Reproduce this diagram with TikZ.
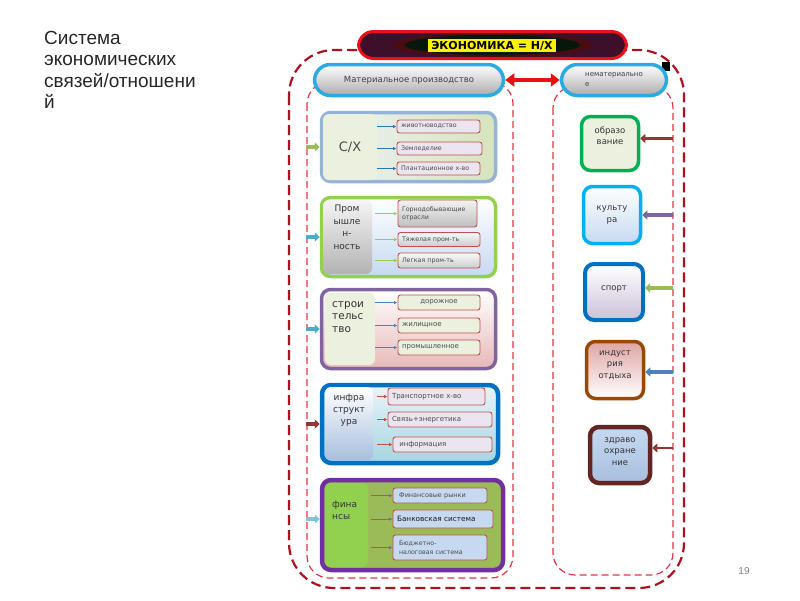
\documentclass[tikz,border=0pt]{standalone}
\usepackage{fontspec}
\setmainfont{DejaVu Sans}
\newfontfamily\titlefont{Liberation Sans}
\usetikzlibrary{arrows.meta}

\definecolor{framered}{HTML}{B0101E}
\definecolor{innerred}{HTML}{E03545}
\definecolor{bannerred}{HTML}{E8101A}
\definecolor{bannerdark}{HTML}{3D0F2B}
\definecolor{bannerring}{HTML}{4A0C10}
\definecolor{bannercore}{HTML}{06170C}
\definecolor{skyline}{HTML}{29ABE2}
\definecolor{arrowred}{HTML}{E81010}
\definecolor{itemred}{HTML}{C0504D}
\definecolor{sxblue}{HTML}{95B3D7}
\definecolor{sxleft}{HTML}{EEF3F8}
\definecolor{sxright}{HTML}{D7E4BD}
\definecolor{limegreen}{HTML}{92D050}
\definecolor{promblue}{HTML}{C6D9F1}
\definecolor{stroipurple}{HTML}{8064A2}
\definecolor{stroipink}{HTML}{E6B9B8}
\definecolor{infrablue}{HTML}{0070C0}
\definecolor{infratop}{HTML}{E9F4F8}
\definecolor{infrabottom}{HTML}{A5D5E2}
\definecolor{infralab}{HTML}{A7BFDE}
\definecolor{finpurple}{HTML}{7030A0}
\definecolor{olive}{HTML}{9BBB59}
\definecolor{palegreen}{HTML}{EBF1DE}
\definecolor{lavender}{HTML}{ECE4EF}
\definecolor{arrowblue}{HTML}{2E75B6}
\definecolor{steelblue}{HTML}{4F81BD}
\definecolor{teal}{HTML}{4BACC6}
\definecolor{darkred}{HTML}{943634}
\definecolor{obrgreen}{HTML}{00B050}
\definecolor{cyanline}{HTML}{00B0F0}
\definecolor{sportlilac}{HTML}{CCC0DA}
\definecolor{brownline}{HTML}{984807}
\definecolor{restpink}{HTML}{DEA5A4}
\definecolor{maroon}{HTML}{632523}

\begin{document}
\begin{tikzpicture}[x=1pt,y=-1pt,
    catbox/.style={draw,line width=3.5pt,rounded corners=9pt,inner sep=0pt},
    labbox/.style={rounded corners=6pt,inner sep=0pt},
    labtext/.style={inner sep=0pt,align=left,text=black!80,font=\fontsize{9}{12}\selectfont},
    itembox/.style={draw=itemred,line width=0.9pt,rounded corners=2.5pt,inner xsep=4pt,inner ysep=0pt,align=left,text=black!70,font=\fontsize{6.3}{7.5}\selectfont},
    sidebox/.style={draw,line width=3.5pt,rounded corners=9pt,inner sep=0pt,align=center,text=black!80,font=\fontsize{8.5}{11.5}\selectfont},
    feed/.style={line width=3.5pt,-{Triangle[length=5pt,width=9pt]}},
    subarrow/.style={line width=0.8pt,-{Latex[length=3.5pt,width=3.5pt]}}]
    \useasboundingbox (0,0) rectangle (800,600);

    \node[anchor=north west,inner sep=0pt,align=left,text=black!85,
        font=\titlefont\fontsize{19}{21.5}\selectfont] (title) at (44,31)
        {Система\\экономических\\связей/отношени\\й};
    \node[font=\titlefont\fontsize{10}{12}\selectfont,text=gray] (page) at (744,571) {19};

    \draw[framered,line width=2.2pt,dash pattern=on 10pt off 5pt,rounded corners=45pt]
        (289,50) rectangle (684,588);
    \draw[innerred,line width=1.2pt,dash pattern=on 7pt off 4pt,rounded corners=22pt]
        (307,82) rectangle (513,578);
    \draw[innerred,line width=1.2pt,dash pattern=on 7pt off 4pt,rounded corners=22pt]
        (553,86) rectangle (673,575);
    \coordinate (lframe) at (306,0);
    \coordinate (rframe) at (673,0);

    \node[draw=bannerred,line width=3pt,fill=bannerdark,rounded corners=15pt,
        minimum width=268pt,minimum height=27pt,inner sep=0pt] (banner) at (492.5,45) {};
    \fill[bannerring] (banner.center) ellipse (100pt and 12pt);
    \fill[bannercore] (banner.center) ellipse (88pt and 10pt);
    \node[fill=yellow,inner xsep=3pt,inner ysep=1.5pt,text=black,
        font=\bfseries\fontsize{11}{12}\selectfont] (econ) at (492,45.5) {ЭКОНОМИКА = Н/Х};

    \fill (662,62) rectangle (670,71);
    \node[draw=skyline,line width=3.5pt,top color=white,bottom color=gray!65,rounded corners=16pt,
        minimum width=189pt,minimum height=31pt,inner sep=0pt,text=black!75,
        font=\fontsize{8.5}{10}\selectfont] (mat) at (409,80) {Материальное производство};
    \node[draw=skyline,line width=3.5pt,top color=white,bottom color=gray!65,rounded corners=16pt,
        minimum width=105pt,minimum height=31pt,inner sep=0pt,align=left,text=black!75,
        font=\fontsize{7}{10}\selectfont] (nemat) at (614,80) {нематериально\\е};
    \draw[arrowred,line width=4pt,{Triangle[length=9pt,width=13pt]}-{Triangle[length=9pt,width=13pt]}]
        (mat.east) -- (nemat.west);

    \node[catbox,draw=sxblue,left color=sxleft,right color=sxright,
        minimum width=174pt,minimum height=69pt] (sx) at (408.5,147) {};
    \node[labbox,fill=palegreen,minimum width=54pt,minimum height=66pt,text=black!70,
        font=\fontsize{13}{14}\selectfont] (sxl) at (350,147) {С/Х};
    \node[itembox,fill=lavender,text width=75pt,minimum height=13pt] (sx1) at (438.5,126.5) {животноводство};
    \node[itembox,fill=lavender,text width=77pt,minimum height=13pt] (sx2) at (439.5,148.5) {Земледелие};
    \node[itembox,fill=lavender,text width=75pt,minimum height=13pt] (sx3) at (438.5,168.5) {Плантационное х-во};
    \draw[subarrow,arrowblue] (sxl.east |- sx1.west) -- (sx1.west);
    \draw[subarrow,arrowblue] (sxl.east |- sx2.west) -- (sx2.west);
    \draw[subarrow,arrowblue] (sxl.east |- sx3.west) -- (sx3.west);
    \draw[feed,olive] (lframe |- sx.west) -- (sx.west);

    \node[catbox,draw=limegreen,top color=white,bottom color=promblue,
        minimum width=174pt,minimum height=79pt] (prom) at (408.5,237) {};
    \node[labbox,top color=gray!8,bottom color=gray!60,minimum width=49pt,minimum height=74pt] (proml) at (347.5,237) {};
    \node[labtext,align=center,anchor=north,font=\fontsize{9}{12.5}\selectfont] (promt) at (347,205) {Пром\\ышле\\н-\\ность};
    \node[itembox,top color=gray!10,bottom color=gray!50,text width=71pt,minimum height=27pt] (prom1) at (437.5,213.5) {Горнодобывающие\\отрасли};
    \node[itembox,top color=gray!5,bottom color=gray!40,text width=74pt,minimum height=14pt] (prom2) at (439,239.5) {Тяжелая пром-ть};
    \node[itembox,top color=gray!5,bottom color=gray!40,text width=74pt,minimum height=15pt] (prom3) at (439,260.5) {Легкая пром-ть};
    \draw[subarrow,limegreen] ([xshift=3pt]proml.east |- prom1.west) -- (prom1.west);
    \draw[subarrow,limegreen] ([xshift=3pt]proml.east |- prom2.west) -- (prom2.west);
    \draw[subarrow,limegreen] ([xshift=3pt]proml.east |- prom3.west) -- (prom3.west);
    \draw[feed,teal] (lframe |- prom.west) -- (prom.west);

    \node[catbox,draw=stroipurple,top color=white,bottom color=stroipink,
        minimum width=174pt,minimum height=79pt] (stroi) at (408.5,329) {};
    \node[labbox,fill=palegreen,minimum width=50pt,minimum height=72pt] (stroil) at (350,329) {};
    \node[labtext,anchor=north west,font=\fontsize{10.5}{12.5}\selectfont] (stroit) at (332,301) {строи\\тельс\\тво};
    \node[itembox,fill=palegreen,align=center,text width=74pt,minimum height=15pt,
        font=\fontsize{7}{8}\selectfont] (stroi1) at (439,302.5) {дорожное};
    \node[itembox,fill=palegreen,text width=74pt,minimum height=15pt,
        font=\fontsize{7}{8}\selectfont] (stroi2) at (439,325.5) {жилищное};
    \node[itembox,fill=palegreen,text width=74pt,minimum height=15pt,
        font=\fontsize{7}{8}\selectfont] (stroi3) at (439,347.5) {промышленное};
    \draw[subarrow,steelblue] (stroil.east |- stroi1.west) -- (stroi1.west);
    \draw[subarrow,steelblue] (stroil.east |- stroi2.west) -- (stroi2.west);
    \draw[subarrow,steelblue] (stroil.east |- stroi3.west) -- (stroi3.west);
    \draw[feed,teal] (lframe |- stroi.west) -- (stroi.west);

    \node[catbox,draw=infrablue,line width=4.5pt,top color=infratop,bottom color=infrabottom,
        minimum width=176pt,minimum height=78pt] (infra) at (410,424) {};
    \node[labbox,top color=white,bottom color=infralab,minimum width=48pt,minimum height=73pt] (infral) at (349,423.5) {};
    \node[labtext,align=center,anchor=north] (infrat) at (349,394) {инфра\\структ\\ура};
    \node[itembox,fill=lavender,text width=89pt,minimum height=17pt,
        font=\fontsize{7}{8}\selectfont] (infra1) at (436.5,396.5) {Транспортное х-во};
    \node[itembox,fill=lavender,text width=96pt,minimum height=15pt,
        font=\fontsize{7}{8}\selectfont] (infra2) at (440,419.5) {Связь+энергетика};
    \node[itembox,fill=lavender,text width=91pt,minimum height=15pt,
        font=\fontsize{7}{8}\selectfont] (infra3) at (442.5,444.5) {\ информация};
    \draw[subarrow,itemred] ([xshift=4pt]infral.east |- infra1.west) -- (infra1.west);
    \draw[subarrow,itemred] ([xshift=4pt]infral.east |- infra2.west) -- (infra2.west);
    \draw[subarrow,itemred] ([xshift=4pt]infral.east |- infra3.west) -- (infra3.west);
    \draw[feed,darkred] (lframe |- infra.west) -- (infra.west);

    \node[catbox,draw=finpurple,line width=4.5pt,fill=olive,
        minimum width=181pt,minimum height=90pt] (fin) at (412.5,525) {};
    \node[labbox,fill=limegreen,minimum width=43pt,minimum height=84pt] (finl) at (346.5,525) {};
    \node[labtext,anchor=north west] (fint) at (332,501) {фина\\нсы};
    \node[itembox,fill=promblue,text width=86pt,minimum height=15pt,
        font=\fontsize{6.5}{8}\selectfont] (fin1) at (440,495.5) {\ Финансовые рынки};
    \node[itembox,fill=promblue,text width=92pt,minimum height=18pt,text=black!90,
        font=\fontsize{7.3}{8}\selectfont] (fin2) at (443,519) {Банковская система};
    \node[itembox,fill=promblue,text width=86pt,minimum height=25pt,
        font=\fontsize{6.3}{9}\selectfont] (fin3) at (440,547.5) {\ Бюджетно-\\\ налоговая система};
    \draw[subarrow,stroipurple] ([xshift=3pt]finl.east |- fin1.west) -- (fin1.west);
    \draw[subarrow,stroipurple] ([xshift=3pt]finl.east |- fin2.west) -- (fin2.west);
    \draw[subarrow,stroipurple] ([xshift=3pt]finl.east |- fin3.west) -- (fin3.west);
    \draw[feed,teal!70] ([yshift=6pt]lframe |- fin.west) -- ([yshift=6pt]fin.west);

    \node[sidebox,draw=obrgreen,fill=palegreen,minimum width=57pt,minimum height=54pt] (obr) at (610,143.5) {образо\\вание\\[4pt]};
    \node[sidebox,draw=cyanline,top color=white,bottom color=promblue,minimum width=57pt,minimum height=57pt] (kult) at (612,215) {культу\\ра};
    \node[sidebox,draw=infrablue,line width=4pt,top color=white,bottom color=sportlilac,minimum width=58pt,minimum height=56pt] (sport) at (614,292) {спорт\\[-4pt]};
    \node[sidebox,draw=brownline,top color=restpink,bottom color=white,minimum width=57pt,minimum height=57pt] (rest) at (615,370) {индуст\\рия\\отдыха\\[0pt]};
    \node[sidebox,draw=maroon,line width=4.5pt,top color=promblue,bottom color=infralab,minimum width=60pt,minimum height=56pt] (health) at (620,455) {здраво\\охране\\ние\\[-4pt]};
    \draw[feed,darkred] ([yshift=5pt]rframe |- obr.east) -- ([yshift=5pt]obr.east);
    \draw[feed,stroipurple] (rframe |- kult.east) -- (kult.east);
    \draw[feed,olive] ([yshift=4pt]rframe |- sport.east) -- ([yshift=4pt]sport.east);
    \draw[feed,steelblue] ([yshift=-2pt]rframe |- rest.east) -- ([yshift=-2pt]rest.east);
    \draw[feed,darkred,line width=2.5pt] ([yshift=7pt]rframe |- health.east) -- ([yshift=7pt]health.east);
\end{tikzpicture}
\end{document}
